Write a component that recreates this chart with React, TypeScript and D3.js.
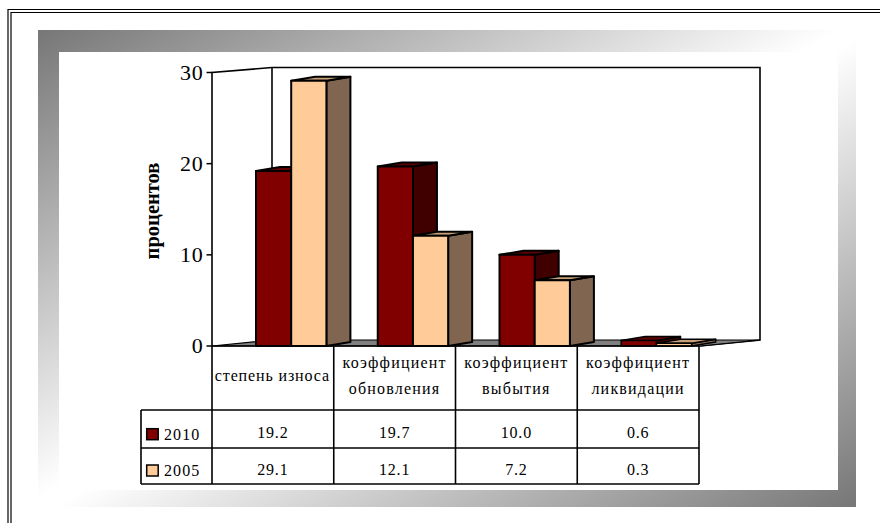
import React from "react";
import * as d3 from "d3";

const categories: string[][] = [["степень износа"], ["коэффициент", "обновления"], ["коэффициент", "выбытия"], ["коэффициент", "ликвидации"]];
const seriesNames = ["2010", "2005"];
const values2010 = [19.2, 19.7, 10.0, 0.6];
const values2005 = [29.1, 12.1, 7.2, 0.3];
const yTicks = [0, 10, 20, 30];
const fronts = ["#800000", "#FFCC99"];
const tops = ["#600000", "#C8A078"];
const sides = ["#400000", "#806650"];

const W = 880, H = 523;
const serif = "'Liberation Serif', 'Times New Roman', serif";

const y = d3.scaleLinear().domain([0, 30]).range([346, 72.5]);
const x = d3.scaleBand<number>().domain([0, 1, 2, 3]).range([212, 699]).paddingInner(0).paddingOuter(0);
const barOffset = 44, barW = 35.2, dx = 24, dy = 4;
const wallDx = 60, wallDy = 6;
const right = 700;
const rowY = [346, 410, 448, 484];
const leftX = 141;

const poly = (pts: number[][]) => d3.line()(pts as [number, number][]) + "Z";

function Bar({ cat, s, v }: { cat: number; s: number; v: number }) {
  const x0 = x(cat)! + barOffset + s * barW, x1 = x0 + barW;
  const yt = y(v), yb = y(0);
  const sw = v < 1 ? 1.6 : 2;
  return (
    <g stroke="#000" strokeWidth={sw} strokeLinejoin="round">
      <path d={poly([[x1, yb], [x1, yt], [x1 + dx, yt - dy], [x1 + dx, yb - dy]])} fill={sides[s]} />
      <path d={poly([[x0, yt], [x1, yt], [x1 + dx, yt - dy], [x0 + dx, yt - dy]])} fill={tops[s]} />
      <rect x={x0} y={yt} width={barW} height={yb - yt} fill={fronts[s]} />
    </g>
  );
}

export default function App() {
  const series = [values2010, values2005];
  const y0 = y(0), y30 = y(30);
  return (
    <svg width={W} height={H} viewBox={`0 0 ${W} ${H}`} style={{ position: "absolute", left: 0, top: 0, background: "#fff" }}>
      <defs>
        <linearGradient id="fr" gradientUnits="userSpaceOnUse" x1={238.6} y1={-89} x2={655.4} y2={626}>
          <stop offset="0" stopColor="#767676" />
          <stop offset="0.49" stopColor="#ffffff" />
          <stop offset="0.51" stopColor="#ffffff" />
          <stop offset="1" stopColor="#767676" />
        </linearGradient>
      </defs>
      <path d={`M${W},9.5H8V${H}M${W},12.5H11V${H}`} fill="none" stroke="#000" strokeWidth={1.2} />
      <path fillRule="evenodd" fill="url(#fr)" d="M38,30H856V507H38Z M59,52V490H838V52Z" />

      {/* walls and floor */}
      <path d={poly([[212, y30], [212 + wallDx, y30 - 5], [right + wallDx, y30 - 5], [right + wallDx, y0 - wallDy], [212 + wallDx, y0 - wallDy], [212, y0]])} fill="#fff" stroke="none" />
      <path d={`M212,${y0}V${y30}L${212 + wallDx},${y30 - 5}H${right + wallDx}V${y0 - wallDy}L${right},${y0}`} fill="none" stroke="#000" strokeWidth={1.6} />
      <path d={`M${212 + wallDx},${y30 - 5}V${y0 - wallDy}`} fill="none" stroke="#000" strokeWidth={1.6} />
      <path d={poly([[212, y0], [212 + wallDx, y0 - wallDy], [right + wallDx, y0 - wallDy], [right, y0]])} fill="#808080" stroke="#000" strokeWidth={1.2} />

      {/* bars */}
      {categories.map((_, c) => series.map((vals, s) => <Bar key={`${c}-${s}`} cat={c} s={s} v={vals[c]} />))}

      {/* y axis */}
      {yTicks.map(t => (
        <g key={t}>
          <line x1={206.5} x2={212} y1={y(t)} y2={y(t)} stroke="#000" strokeWidth={1.5} />
          <text x={203.5} y={y(t) + 7} textAnchor="end" fontFamily={serif} fontSize={22} fill="#000" letterSpacing={0.8}>{t}</text>
        </g>
      ))}
      <text transform="translate(158.5,211) rotate(-90)" textAnchor="middle" fontFamily={serif} fontSize={20.5} fontWeight="bold" fill="#000">процентов</text>

      {/* data table */}
      <g stroke="#000" strokeWidth={1.6} fill="none">
        {[...x.domain().map(d => x(d)!), 699].map(px => <line key={px} x1={px} x2={px} y1={rowY[0]} y2={rowY[3]} />)}
        <line x1={212} x2={699} y1={rowY[0]} y2={rowY[0]} />
        {rowY.slice(1).map(ry => <line key={ry} x1={leftX} x2={699} y1={ry} y2={ry} />)}
        <line x1={leftX} x2={leftX} y1={rowY[1]} y2={rowY[3]} />
      </g>
      {categories.map((lines, c) => {
        const cx = x(c)! + x.bandwidth() / 2 + (c === 0 ? -0.5 : 0);
        return lines.map((l, i) => (
          <text key={l} x={cx} y={lines.length === 1 ? 381 : 367.5 + i * 26} textAnchor="middle" fontFamily={serif} fontSize={16} letterSpacing={lines.length === 1 ? 0.87 : 1.2} fill="#000">{l}</text>
        ));
      })}
      {series.map((vals, s) => (
        <g key={s}>
          <rect x={146.7} y={s === 0 ? 428.7 : 465} width={11.5} height={11} fill={fronts[s]} stroke="#000" strokeWidth={1.5} />
          <text x={164} y={s === 0 ? 440 : 476} fontFamily={serif} fontSize={16} letterSpacing={1.1} fill="#000">{seriesNames[s]}</text>
          {vals.map((v, c) => (
            <text key={c} x={x(c)! + x.bandwidth() / 2} y={s === 0 ? 438 : 475} textAnchor="middle" fontFamily={serif} fontSize={16} letterSpacing={0.8} fill="#000">{d3.format(".1f")(v)}</text>
          ))}
        </g>
      ))}
    </svg>
  );
}
